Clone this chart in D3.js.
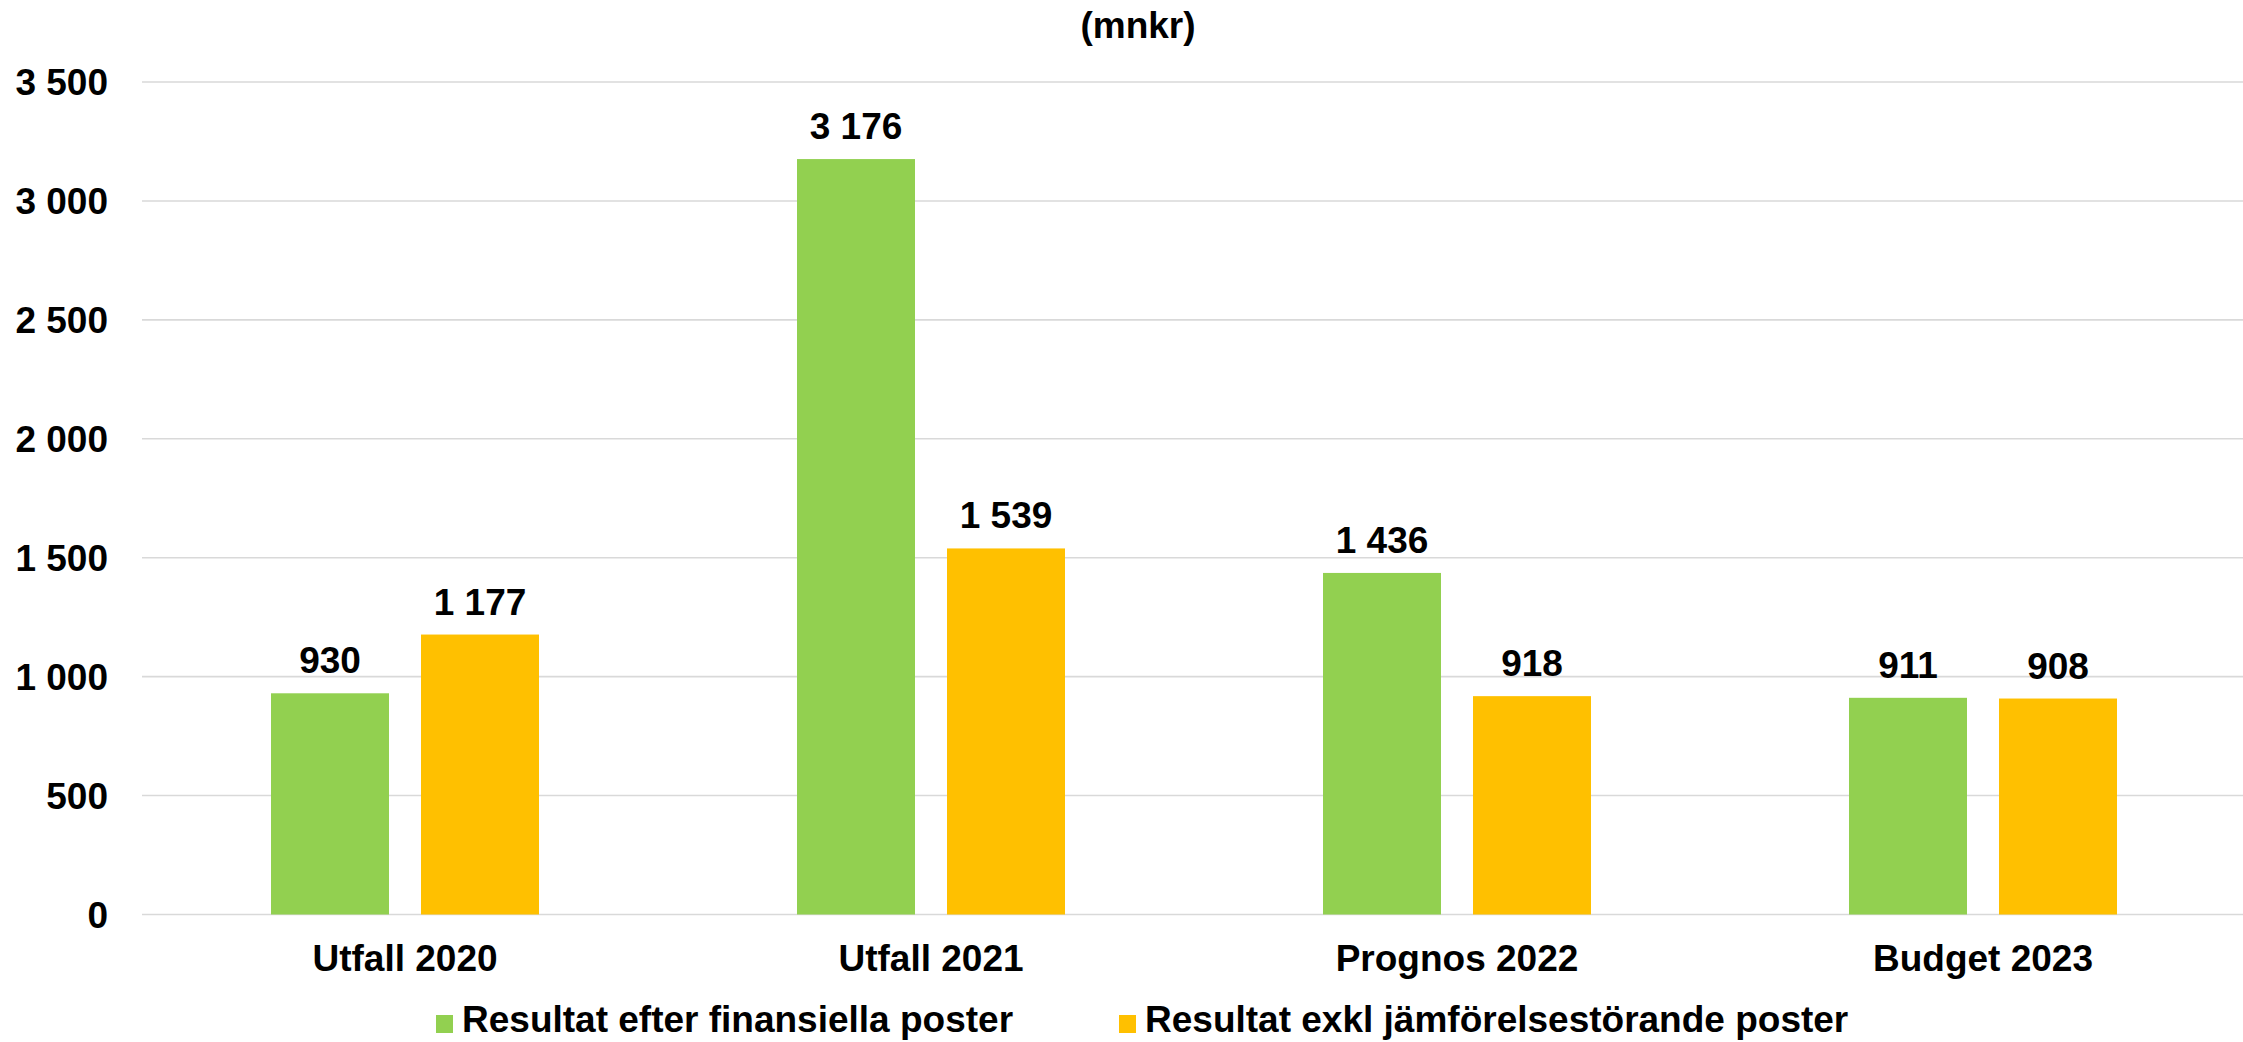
<!DOCTYPE html>
<html>
<head>
<meta charset="utf-8">
<script src="https://cdn.jsdelivr.net/npm/d3@7"></script>
<style>
  body { margin: 0; background: #fff; }
  text { font-family: "Liberation Sans", Arial, sans-serif; font-weight: bold; fill: #000; }
</style>
</head>
<body>
<div id="container"></div>
<script>
const width = 2243;
const height = 1042;

// data
const categories = ["Utfall 2020", "Utfall 2021", "Prognos 2022", "Budget 2023"];
const seriesNames = ["Resultat efter finansiella poster", "Resultat exkl jämförelsestörande poster"];
const seriesColors = ["#92D050", "#FFC000"];
const efterFinansiella = [930, 3176, 1436, 911];
const exklJamforelse = [1177, 1539, 918, 908];
const yTicks = [0, 500, 1000, 1500, 2000, 2500, 3000, 3500];

const series = [efterFinansiella, exklJamforelse];

// format "1 177" with a space as thousands separator
const fmt = v => d3.format(",")(v).replace(/,/g, " ");

const svg = d3.select("#container")
	.append("svg")
	.attr("width", width)
	.attr("height", height);

const x = d3.scaleBand()
	.domain(categories)
	.range([142, 2246]);

const y = d3.scaleLinear()
	.domain([0, 3500])
	.range([914.5, 82]);

const barW = 118, barGap = 32;
const fontSize = "37px";

// gridlines
svg.append("g")
	.selectAll("line")
	.data(yTicks)
	.enter()
	.append("line")
	.attr("x1", 142)
	.attr("x2", width)
	.attr("y1", d => y(d))
	.attr("y2", d => y(d))
	.attr("stroke", "#d9d9d9")
	.attr("stroke-width", 1.6);

// y labels
svg.append("g")
	.selectAll("text")
	.data(yTicks)
	.enter()
	.append("text")
	.attr("x", 108)
	.attr("y", d => y(d))
	.attr("dy", "0.36em")
	.attr("text-anchor", "end")
	.style("font-size", fontSize)
	.text(d => fmt(d));

// bars and value labels per series
series.forEach((vals, s) => {
	const g = svg.append("g");
	const bx = (d, i) => x(categories[i]) + x.bandwidth() / 2 + (s === 0 ? -barGap / 2 - barW : barGap / 2);
	g.selectAll("rect")
		.data(vals)
		.enter()
		.append("rect")
		.attr("x", bx)
		.attr("y", d => y(d))
		.attr("width", barW)
		.attr("height", d => y(0) - y(d))
		.attr("fill", seriesColors[s]);
	g.selectAll("text")
		.data(vals)
		.enter()
		.append("text")
		.attr("x", (d, i) => bx(d, i) + barW / 2)
		.attr("y", d => y(d) - 20)
		.attr("text-anchor", "middle")
		.style("font-size", fontSize)
		.text(d => fmt(d));
});

// category labels
svg.append("g")
	.selectAll("text")
	.data(categories)
	.enter()
	.append("text")
	.attr("x", d => x(d) + x.bandwidth() / 2)
	.attr("y", 971)
	.attr("text-anchor", "middle")
	.style("font-size", fontSize)
	.text(d => d);

// title
svg.append("text")
	.attr("x", 1138)
	.attr("y", 38)
	.attr("text-anchor", "middle")
	.style("font-size", fontSize)
	.text("(mnkr)");

// legend
const legendX = [436, 1119];
const legend = svg.append("g")
	.selectAll("g")
	.data(seriesNames)
	.enter()
	.append("g")
	.attr("transform", (d, i) => "translate(" + legendX[i] + ",0)");
legend.append("rect")
	.attr("x", 0)
	.attr("y", 1015)
	.attr("width", 17)
	.attr("height", 18)
	.attr("fill", (d, i) => seriesColors[i]);
legend.append("text")
	.attr("x", 26)
	.attr("y", 1032)
	.style("font-size", fontSize)
	.text(d => d);
</script>
</body>
</html>
